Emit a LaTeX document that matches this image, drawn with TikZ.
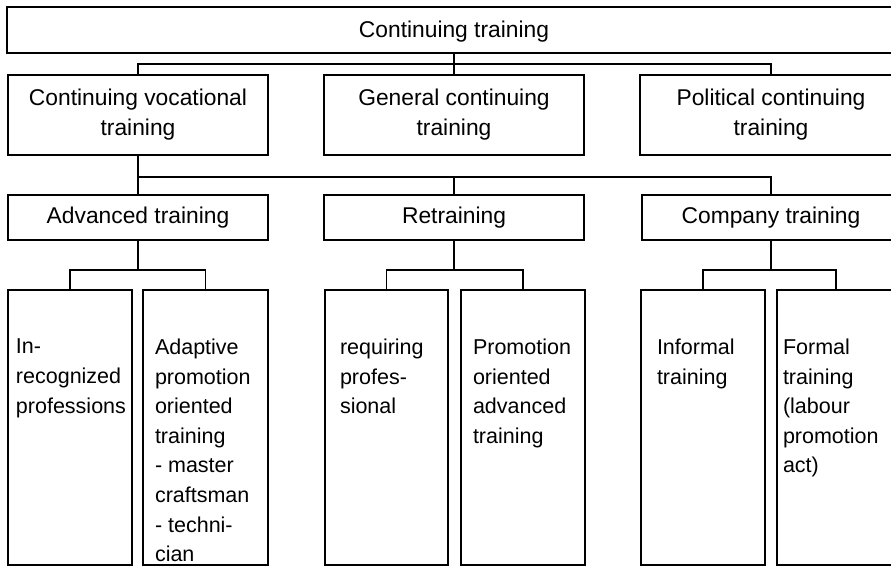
\documentclass[tikz,border=0pt]{standalone}
\usepackage{fontspec}
\setmainfont{Liberation Sans}
\begin{document}
\begin{tikzpicture}[x=1pt,y=-1pt,
  box/.style={draw, line width=1.2pt, inner sep=0pt, outer sep=0pt,
    anchor=north west, align=center,
    font=\fontsize{22.8}{30}\selectfont},
  txt/.style={inner sep=0pt, outer sep=0pt, anchor=north west, align=left,
    font=\fontsize{21.5}{29.6}\selectfont},
  conn/.style={line width=1.2pt},
  bus/.style={line width=2.6pt}]
\useasboundingbox (0,0) rectangle (891,566);
\clip (0,0) rectangle (891,566);

% level 1
\node[box, minimum width=894, minimum height=46, text depth=2pt] (top) at (7,7) {Continuing training};

% level 2
\node[box, minimum width=260, minimum height=80] (voc) at (8,75) {Continuing vocational\\training};
\node[box, minimum width=260, minimum height=80] (gen) at (324,75) {General continuing\\training};
\node[box, minimum width=262, minimum height=80] (pol) at (640,75) {Political continuing\\training};

% level 3
\node[box, minimum width=260, minimum height=45] (adv) at (8,195) {Advanced training};
\node[box, minimum width=260, minimum height=45] (ret) at (324,195) {Retraining};
\node[box, minimum width=258, minimum height=45] (comp) at (642,195) {Company training};

% level 4
\node[box, minimum width=124, minimum height=275] (b1) at (8,290) {};
\node[box, minimum width=125, minimum height=275] (b2) at (143,290) {};
\node[box, minimum width=123, minimum height=275] (b3) at (325,290) {};
\node[box, minimum width=124, minimum height=275] (b4) at (461,290) {};
\node[box, minimum width=124, minimum height=275] (b5) at (641,290) {};
\node[box, minimum width=118, minimum height=275] (b6) at (777,290) {};

\node[txt] (t1) at (16,339) {In-\\recognized\\professions};
\node[txt] (t2) at (155,339) {Adaptive\\promotion\\oriented\\training\\- master\\craftsman\\- techni-\\cian};
\node[txt] (t3) at (340,339) {requiring\\profes-\\sional};
\node[txt] (t4) at (473,339) {Promotion\\oriented\\advanced\\training};
\node[txt] (t5) at (657,339) {Informal\\training};
\node[txt] (t6) at (783,339) {Formal\\training\\(labour\\promotion\\act)};

% connectors from the top box
\draw[conn] (top.south) -- (gen.north);
\draw[conn] (voc.north) -- ++(0,-11) -| (pol.north);

% heavy bus to the third level
\draw[bus] (voc.south) -- (adv.north);
\draw[bus] (adv.north) ++(0,-18) -| (comp.north);
\draw[bus] (ret.north) -- ++(0,-18);

% branches to the fourth level
\draw[conn] (adv.south) -- ++(0,30);
\draw[conn] (b1.north) -- ++(0,-20) -| (b2.north);
\draw[conn] (ret.south) -- ++(0,30);
\draw[conn] (b3.north) -- ++(0,-20) -| (b4.north);
\draw[conn] (comp.south) -- ++(0,30);
\draw[conn] (b5.north) -- ++(0,-20) -| (b6.north);
\end{tikzpicture}
\end{document}
